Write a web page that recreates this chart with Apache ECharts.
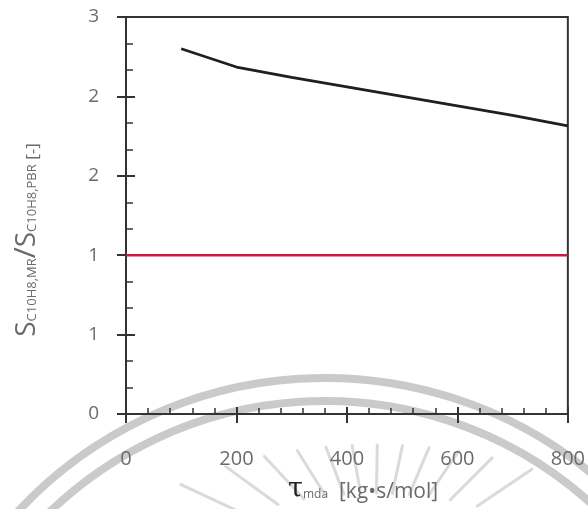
<!DOCTYPE html>
<html>
<head>
<meta charset="utf-8">
<script src="https://cdn.jsdelivr.net/npm/echarts@6/dist/echarts.min.js"></script>
<style>
html,body{margin:0;padding:0;background:#fff;}
#chart{width:588px;height:509px;}
</style>
</head>
<body>
<div id="chart"></div>
<script>
// ---- data ----
const tauValues = [100, 200, 300, 400, 500, 600, 700, 800];
const ratioValues = [2.30, 2.185, 2.12, 2.06, 2.00, 1.94, 1.88, 1.815];
const baselineTau = [0, 800];
const baselineValues = [1, 1];
const xTickLabels = ['0', '200', '400', '600', '800'];
const yTickLabels = ['0', '1', '1', '2', '2', '3'];

const chart = echarts.init(document.getElementById('chart'));

const axisColor = '#2f3535';
const labelColor = '#6b6b6b';
const font = 'Open Sans';

// watermark decoration (not data)
const deco = [];
const arcs = [{r: 420}, {r: 397}];
arcs.forEach(a => deco.push({
  type: 'arc', z: -10, silent: true,
  shape: {cx: 325, cy: 798, r: a.r, startAngle: Math.PI * 0.98, endAngle: Math.PI * 2.02},
  style: {stroke: '#cacaca', lineWidth: 8, fill: null}
}));
const rc = [375, 575];
function ell(rx, ry, th) { return 1 / Math.sqrt(Math.cos(th) ** 2 / (rx * rx) + Math.sin(th) ** 2 / (ry * ry)); }
for (let d = 205; d <= 336; d += 11) {
  const th = d * Math.PI / 180;
  const r1 = ell(190, 82, th), r2 = ell(270, 130, th);
  deco.push({
    type: 'line', z: -10, silent: true,
    shape: {x1: rc[0] + r1 * Math.cos(th), y1: rc[1] + r1 * Math.sin(th), x2: rc[0] + r2 * Math.cos(th), y2: rc[1] + r2 * Math.sin(th)},
    style: {stroke: '#dadada', lineWidth: 3, lineCap: 'round'}
  });
}

const xCommon = {type: 'value', min: 0, max: 800, interval: 200, gridIndex: 0};
const yCommon = {type: 'value', min: 0, max: 2.5, interval: 0.5, gridIndex: 0};

chart.setOption({
  animation: false,
  backgroundColor: '#fff',
  grid: {left: 126, right: 18, top: 17, bottom: 95, show: true, borderColor: axisColor, borderWidth: 2, backgroundColor: 'transparent'},
  xAxis: [
    Object.assign({}, xCommon, {
      position: 'bottom',
      axisLine: {show: true, lineStyle: {color: axisColor, width: 2}},
      axisTick: {show: true, inside: true, length: 7, lineStyle: {color: axisColor, width: 2}},
      minorTick: {show: true, splitNumber: 5, length: 6, lineStyle: {color: axisColor, width: 1.5}},
      splitLine: {show: false},
      axisLabel: {margin: 35, color: labelColor, fontSize: 20, fontFamily: font,
        formatter: (v) => xTickLabels[Math.round(v / 200)]}
    }),
    Object.assign({}, xCommon, {
      position: 'bottom',
      axisLine: {show: false},
      axisTick: {show: true, inside: false, length: 9, lineStyle: {color: axisColor, width: 2}},
      splitLine: {show: false},
      axisLabel: {show: false}
    })
  ],
  yAxis: [
    Object.assign({}, yCommon, {
      position: 'left',
      axisLine: {show: true, lineStyle: {color: axisColor, width: 2}},
      axisTick: {show: true, inside: true, length: 9, lineStyle: {color: axisColor, width: 2}},
      minorTick: {show: true, splitNumber: 3, length: 7, lineStyle: {color: axisColor, width: 1.5}},
      splitLine: {show: false},
      axisLabel: {margin: 27, color: labelColor, fontSize: 19, fontFamily: font,
        formatter: (v) => yTickLabels[Math.round(v / 0.5)]}
    }),
    Object.assign({}, yCommon, {
      position: 'left', offset: 0,
      axisLine: {show: false},
      axisTick: {show: true, inside: false, length: 9, lineStyle: {color: axisColor, width: 2}},
      splitLine: {show: false},
      axisLabel: {show: false}
    })
  ],
  series: [
    {
      type: 'line', xAxisIndex: 0, yAxisIndex: 0, symbol: 'none',
      data: baselineTau.map((t, i) => [t, baselineValues[i]]),
      lineStyle: {color: '#d0173f', width: 2.5}
    },
    {
      type: 'line', xAxisIndex: 0, yAxisIndex: 0, symbol: 'none',
      data: tauValues.map((t, i) => [t, ratioValues[i]]),
      lineStyle: {color: '#1f1f1f', width: 2.8}
    }
  ],
  graphic: deco.concat([
    {
      type: 'text', left: 288, top: 476, z: 10,
      style: {
        text: '{t|τ}{sub|mda}{u|  [kg•s/mol]}',
        rich: {
          t: {fontSize: 27, fontFamily: 'DejaVu Serif', fill: '#222', verticalAlign: 'bottom', lineHeight: 26},
          sub: {fontSize: 12, fontFamily: font, fill: labelColor, verticalAlign: 'bottom', lineHeight: 12, padding: [0, 0, 2, 0]},
          u: {fontSize: 21, fontFamily: font, fill: labelColor, verticalAlign: 'bottom', lineHeight: 26}
        }
      }
    },
    {
      type: 'text', x: 25, y: 240, rotation: Math.PI / 2, z: 10,
      style: {
        text: '{s|S}{sub|C10H8,MR}{sl|/}{s|S}{sub|C10H8,PBR}{u| [-]}',
        align: 'center', verticalAlign: 'middle',
        rich: {
          s: {fontSize: 28, fontFamily: font, fill: labelColor, verticalAlign: 'bottom', lineHeight: 32},
          sl: {fontSize: 30, fontFamily: font, fill: labelColor, verticalAlign: 'bottom', lineHeight: 33},
          sub: {fontSize: 13, fontFamily: font, fill: labelColor, verticalAlign: 'bottom', lineHeight: 13, padding: [0, 0, 3, 0]},
          u: {fontSize: 17, fontFamily: font, fill: labelColor, verticalAlign: 'bottom', lineHeight: 30}
        }
      }
    }
  ])
});
</script>
</body>
</html>
